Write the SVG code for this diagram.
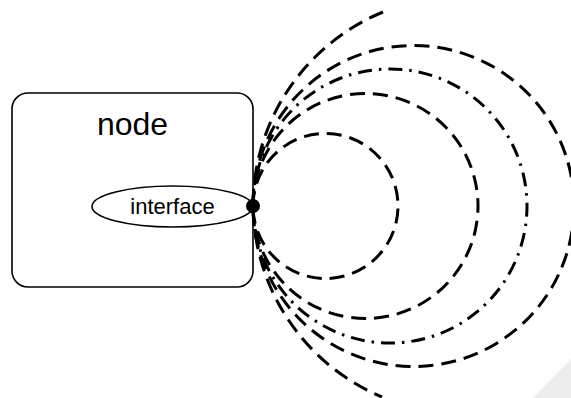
<svg xmlns="http://www.w3.org/2000/svg" width="571" height="398" viewBox="0 0 571 398">
  <style>
    .box { fill: #ffffff; stroke: #000000; stroke-width: 1.6; }
    .label { font-family: "Liberation Sans", Arial, sans-serif; fill: #000000; text-anchor: middle; }
    .arc { fill: none; stroke: #000000; stroke-width: 3; }
    .dash { stroke-dasharray: 15 8; }
    .dashdot { stroke-dasharray: 14 7 2.5 7; }
  </style>
  <rect width="571" height="398" fill="#ffffff"/>

  <!-- faint corner mark -->
  <polygon points="533,398 571,359 571,398" fill="#ededed"/>

  <g id="node">
    <rect class="box" x="12" y="93" width="241" height="194" rx="16" ry="16"/>
    <text class="label" x="132.5" y="135" font-size="32">node</text>
  </g>

  <g id="interface">
    <ellipse class="box" cx="172.5" cy="206.5" rx="80.5" ry="20.5"/>
    <text class="label" x="172.5" y="213.5" font-size="22">interface</text>
  </g>

  <g id="connectors">
    <!-- circles all tangent at the port point (253,206) -->
    <path class="arc dash" d="M253,206 A72.5,72.5 0 1 1 398,206 A72.5,72.5 0 1 1 253,206"/>
    <path class="arc dash" d="M253,206 A112.5,112.5 0 1 1 478,206 A112.5,112.5 0 1 1 253,206"/>
    <path class="arc dashdot" d="M253,206 A137,137 0 1 1 527,206 A137,137 0 1 1 253,206"/>
    <path class="arc dash" d="M253,206 A160.5,160.5 0 1 1 574,206 A160.5,160.5 0 1 1 253,206"/>
    <!-- outer partial arc -->
    <path class="arc dash" d="M383,12 A210,210 0 0 0 253,206 A210,210 0 0 0 382,397"/>
  </g>

  <g id="port">
    <circle cx="253" cy="206" r="7" fill="#000000"/>
  </g>
</svg>
